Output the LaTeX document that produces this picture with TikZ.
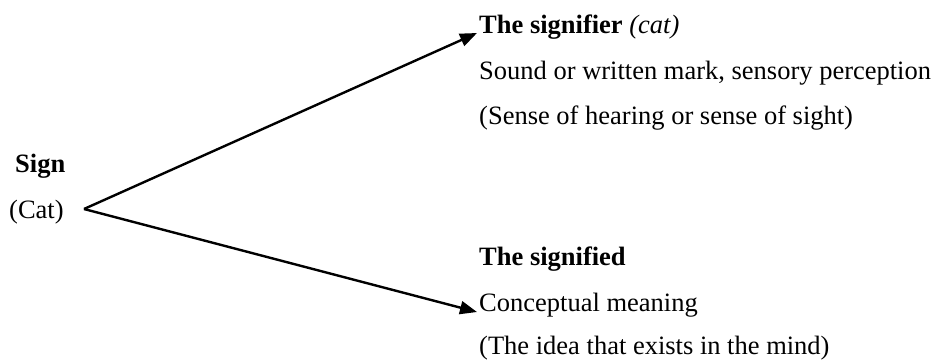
\documentclass[tikz,border=0pt]{standalone}
\usepackage{fontspec}
\setmainfont{Liberation Serif}
\usetikzlibrary{arrows.meta}
\begin{document}
\begin{tikzpicture}[x=1pt,y=-1pt,
  txt/.style={anchor=base west,inner sep=0pt,font=\fontsize{26.5}{30}\selectfont},
  arr/.style={line width=2.4pt,-{Triangle[length=17pt,width=13pt]}}]
\useasboundingbox (0,0) rectangle (936,360);
\node[txt,font=\fontsize{26.5}{30}\selectfont\bfseries] (sign) at (15,172) {Sign};
\node[txt] (cat) at (9,218) {(Cat)};
\coordinate (apex) at (84,209);
\coordinate (tipA) at (477,33);
\coordinate (tipB) at (477,312);
\node[txt] (sr1) at (479,33) {\textbf{The signifier} \textit{(cat)}};
\node[txt] (sr2) at (479,79) {Sound or written mark, sensory perception};
\node[txt] (sr3) at (479,124) {(Sense of hearing or sense of sight)};
\node[txt] (sd1) at (479,265) {\textbf{The signified}};
\node[txt] (sd2) at (479,311) {Conceptual meaning};
\node[txt] (sd3) at (479,354) {(The idea that exists in the mind)};
\draw[arr] (apex) -- (tipA);
\draw[arr] (apex) -- (tipB);
\end{tikzpicture}
\end{document}
